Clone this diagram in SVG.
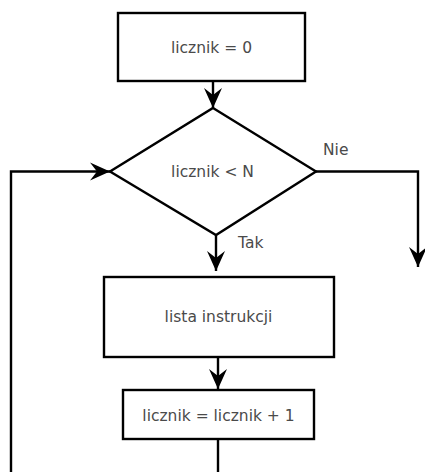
<svg xmlns="http://www.w3.org/2000/svg" width="425" height="472" viewBox="0 0 425 472">
<style>
.box{fill:#fff;stroke:#000;stroke-width:2.4}
.lbl{font-family:"DejaVu Sans",sans-serif;font-size:15.5px;fill:#4a4a4a;text-anchor:middle}
.small{font-family:"DejaVu Sans",sans-serif;font-size:15.5px;fill:#4a4a4a}
.con{fill:none;stroke:#000;stroke-width:2.4;marker-end:url(#ah)}
.plain{fill:none;stroke:#000;stroke-width:2.4}
</style>
<defs>
<marker id="ah" markerUnits="userSpaceOnUse" markerWidth="24" markerHeight="22" viewBox="-21 -11 23 22" refX="0" refY="0" orient="auto">
<path d="M0,0 L-20,-9 L-13,0 L-20,9 Z" fill="#000"/>
</marker>
</defs>
<rect width="425" height="472" fill="#fff"/>
<g id="connectors">
<path class="con" d="M213,81 V108"/>
<path class="con" d="M216,235 V271"/>
<path class="con" d="M316,171.5 H418 V267"/>
<path class="con" d="M11,472 V171.5 H110"/>
<path class="con" d="M218,357 V389"/>
<path class="plain" d="M218,439 V472"/>
</g>
<g id="start">
<rect class="box" x="118" y="13" width="187" height="68"/>
<text class="lbl" x="211.5" y="53">licznik = 0</text>
</g>
<g id="cond">
<polygon class="box" points="213,108 316,171.5 216,235 110,171.5"/>
<text class="lbl" x="212.5" y="177">licznik &lt; N</text>
</g>
<g id="lista">
<rect class="box" x="104" y="277" width="230" height="80"/>
<text class="lbl" x="218.5" y="322">lista instrukcji</text>
</g>
<g id="incr">
<rect class="box" x="123" y="390" width="191" height="49"/>
<text class="lbl" x="218.5" y="421">licznik = licznik + 1</text>
</g>
<g id="labels">
<text class="small" x="238" y="248">Tak</text>
<text class="small" x="323" y="155">Nie</text>
</g>
</svg>
